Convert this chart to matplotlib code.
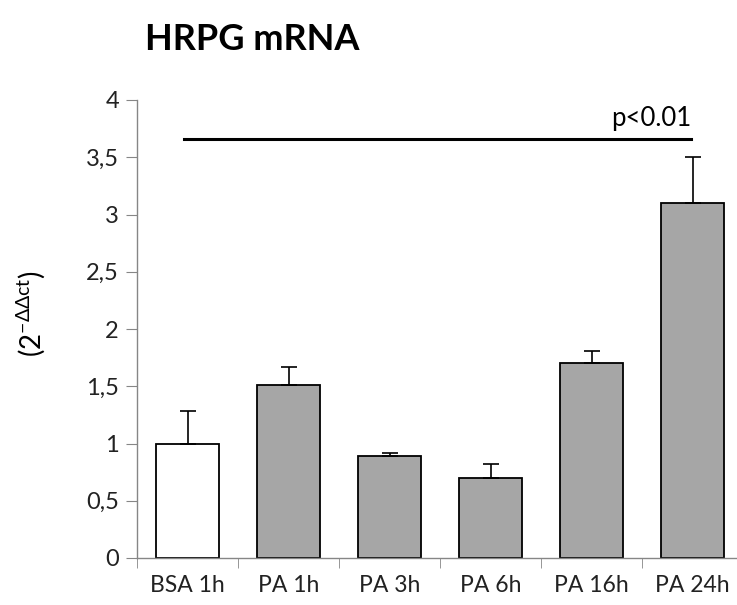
import matplotlib.pyplot as plt
import numpy as np

plt.rcParams['font.family'] = ['Lato', 'DejaVu Sans']

groups = ['BSA 1h', 'PA 1h', 'PA 3h', 'PA 6h', 'PA 16h', 'PA 24h']
means = [1.0, 1.51, 0.89, 0.70, 1.70, 3.10]
errs = [0.28, 0.16, 0.03, 0.12, 0.11, 0.40]
colors = ['white', '#a6a6a6', '#a6a6a6', '#a6a6a6', '#a6a6a6', '#a6a6a6']
yticks = [0, 0.5, 1, 1.5, 2, 2.5, 3, 3.5, 4]
ytick_labels = ['0', '0,5', '1', '1,5', '2', '2,5', '3', '3,5', '4']
sig_y = 3.66
sig_text = 'p<0.01'

W, H = 737, 605
fig = plt.figure(figsize=(W / 100, H / 100), dpi=100)
ax = fig.add_axes([137 / W, 47 / H, 606 / W, 458 / H])

x = np.arange(len(groups))
ax.bar(x, means, width=0.62, color=colors, edgecolor='black', linewidth=1.3, zorder=2)
ax.errorbar(x, means, yerr=[np.zeros(len(errs)), errs], fmt='none', ecolor='black',
            elinewidth=1.2, capsize=6, capthick=1.2, zorder=3)

ax.set_xlim(-0.5, len(groups) - 0.5)
ax.set_ylim(0, 4)
ax.set_yticks(yticks)
ax.set_yticklabels(ytick_labels)
ax.set_xticks(x)
ax.set_xticklabels(groups)
ax.set_xticks(np.arange(len(groups) + 1) - 0.5, minor=True)
ax.tick_params(axis='x', which='major', length=0, pad=12, labelsize=16.5, colors='#222222')
ax.tick_params(axis='x', which='minor', length=7, color='#868686', direction='out')
ax.tick_params(axis='y', length=8, color='#868686', labelsize=17, pad=5, labelcolor='#222222')

for s in ['top', 'right']:
    ax.spines[s].set_visible(False)
for s in ['left', 'bottom']:
    ax.spines[s].set_color('#868686')
    ax.spines[s].set_linewidth(1.0)

# significance bar
ax.plot([-0.03, 4.99], [sig_y, sig_y], color='black', lw=2.2, clip_on=False)
ax.text(4.99, sig_y + 0.07, sig_text, ha='right', va='bottom', fontsize=18.5)

fig.text(31 / W, 1 - 314 / H, r'(2$^{\mathregular{-ΔΔct}}$)', fontsize=20, rotation=90,
         ha='center', va='center')
fig.text(145 / W, 1 - 40 / H, 'HRPG mRNA', fontsize=26, fontweight='bold', va='center', ha='left')

fig.savefig('out.png', dpi=100)
